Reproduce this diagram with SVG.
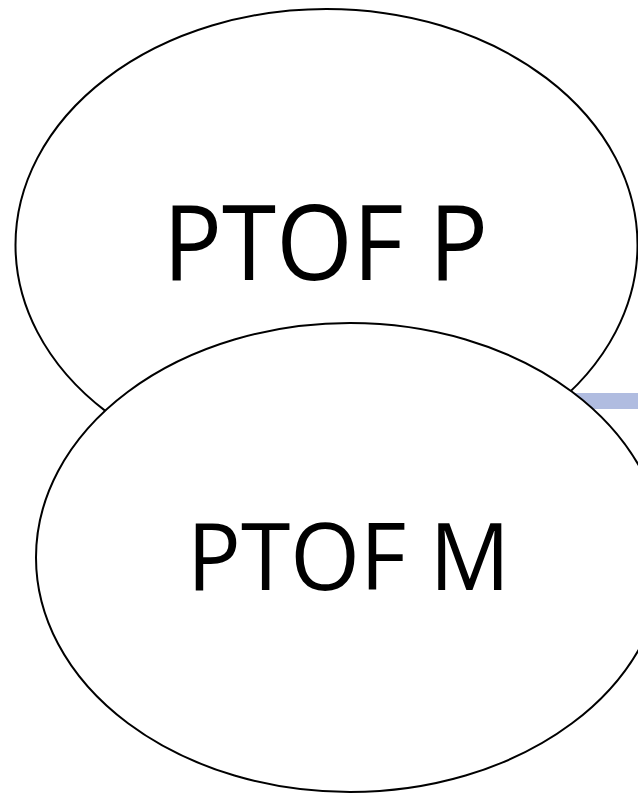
<svg xmlns="http://www.w3.org/2000/svg" width="638" height="795" viewBox="0 0 638 795">
<style>
.node{fill:#ffffff;stroke:#000000;stroke-width:2}
.lbl{font-family:"Open Sans","Noto Sans","Liberation Sans",sans-serif;fill:#000000;text-anchor:middle}
</style>
<rect width="638" height="795" fill="#ffffff"/>
<g id="connectors">
<rect x="570" y="393" width="70" height="16" fill="#B0BCE0"/>
</g>
<g id="ptof-p">
<ellipse class="node" cx="326.5" cy="245" rx="311" ry="236"/>
<text class="lbl" x="325.5" y="280" font-size="105" textLength="325" lengthAdjust="spacingAndGlyphs">PTOF P</text>
</g>
<g id="ptof-m">
<ellipse class="node" cx="350" cy="557.5" rx="314" ry="234.5"/>
<text class="lbl" x="348.5" y="590" font-size="94" textLength="323" lengthAdjust="spacingAndGlyphs">PTOF M</text>
</g>
</svg>
